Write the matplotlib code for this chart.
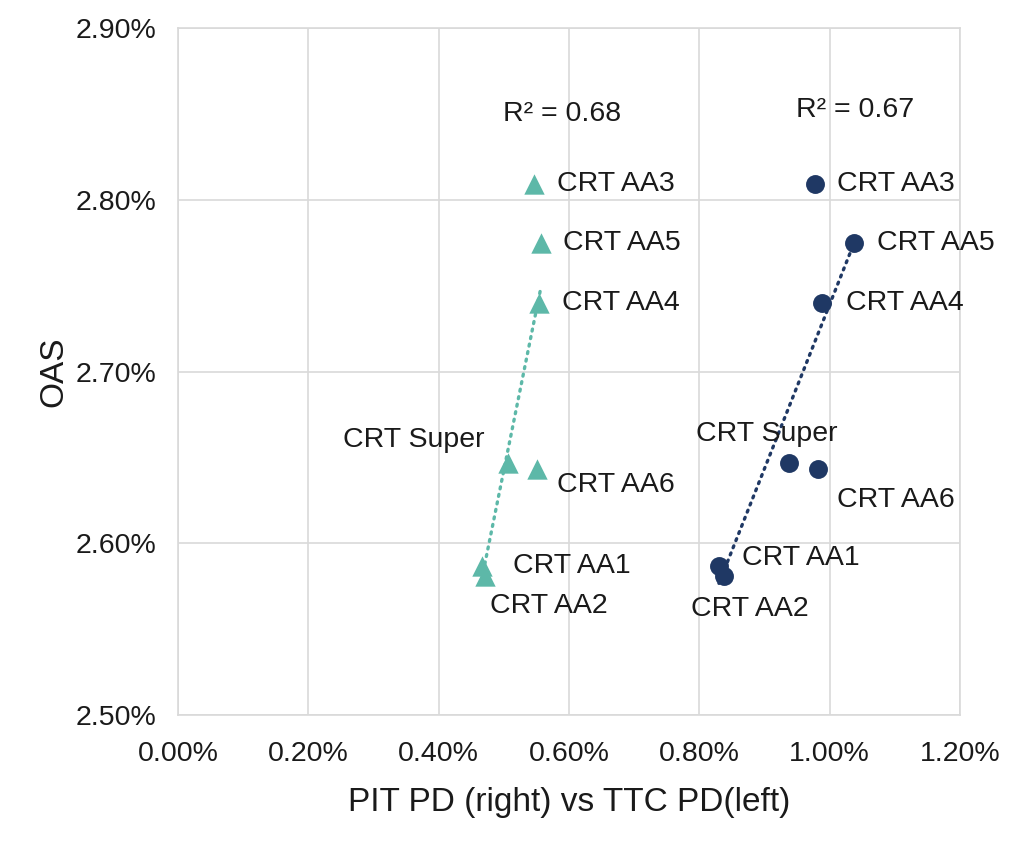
import matplotlib.pyplot as plt
import numpy as np
from matplotlib.ticker import FuncFormatter

plt.rcParams['font.family'] = ['Liberation Sans', 'DejaVu Sans']

# data, in percent
names = ['CRT AA3', 'CRT AA5', 'CRT AA4', 'CRT Super', 'CRT AA6', 'CRT AA1', 'CRT AA2']
oas = [2.809, 2.775, 2.740, 2.647, 2.643, 2.587, 2.581]
ttc_pd = [0.546, 0.557, 0.554, 0.506, 0.551, 0.466, 0.471]
pit_pd = [0.977, 1.037, 0.988, 0.938, 0.982, 0.830, 0.838]
r2_ttc = 0.68
r2_pit = 0.67

teal = '#5db8a8'
navy = '#1f3864'

# label offsets in pixels (dx, dy, ha)
ttc_off = [(23, 0, 'left'), (22, 0, 'left'), (23, 0, 'left'), (-23, 23, 'right'),
           (20, -16, 'left'), (31, 0, 'left'), (5, -30, 'left')]
pit_off = [(22, 0, 'left'), (23, 0, 'left'), (24, 0, 'left'), (-23, 29, 'center'),
           (19, -31, 'left'), (23, 8, 'left'), (26, -33, 'center')]

fig = plt.figure(figsize=(10.24, 8.44), dpi=100)
ax = fig.add_axes([0.174, 0.1528, 0.7635, 0.814])

ax.scatter(ttc_pd, oas, marker='^', s=215, color=teal, zorder=3, linewidths=0)
ax.scatter(pit_pd, oas, marker='o', s=185, color=navy, zorder=3, linewidths=0)

# linear trendlines like excel
for xs, col in [(ttc_pd, teal), (pit_pd, navy)]:
    xs = np.array(xs)
    b, a = np.polyfit(xs, oas, 1)
    xl = np.array([xs.min(), xs.max()])
    ax.plot(xl, a + b * xl, color=col, lw=2.4, linestyle=(0, (0.6, 1.7)),
            dash_capstyle='round', zorder=2)

for xs, offs in [(ttc_pd, ttc_off), (pit_pd, pit_off)]:
    for n, x, y, (dx, dy, ha) in zip(names, xs, oas, offs):
        ax.annotate(n, (x, y), xytext=(dx, dy), textcoords='offset pixels',
                    ha=ha, va='center', fontsize=20.5, color='#1a1a1a')

ax.text(0.589, 2.850, 'R² = %.2f' % r2_ttc, ha='center', va='center', fontsize=20.5, color='#1a1a1a')
ax.text(1.039, 2.852, 'R² = %.2f' % r2_pit, ha='center', va='center', fontsize=20.5, color='#1a1a1a')

ax.set_xlim(0, 1.2)
ax.set_ylim(2.5, 2.9)
ax.set_xticks(np.arange(0, 1.21, 0.2))
ax.set_yticks(np.arange(2.5, 2.91, 0.1))
ax.xaxis.set_major_formatter(FuncFormatter(lambda v, p: '%.2f%%' % v))
ax.yaxis.set_major_formatter(FuncFormatter(lambda v, p: '%.2f%%' % v))
ax.tick_params(length=0, labelsize=20.5, colors='#1a1a1a')
ax.tick_params(axis='y', pad=16)
ax.tick_params(axis='x', pad=19)
ax.grid(True, color='#d9d9d9', lw=1.2)
ax.set_axisbelow(True)
for s in ax.spines.values():
    s.set_color('#d9d9d9')
    s.set_linewidth(1.2)

ax.set_xlabel('PIT PD (right) vs TTC PD(left)', fontsize=24, labelpad=14, color='#1a1a1a')
ax.set_ylabel('OAS', fontsize=24, labelpad=4, color='#1a1a1a')

fig.savefig('out.png', dpi=100)
